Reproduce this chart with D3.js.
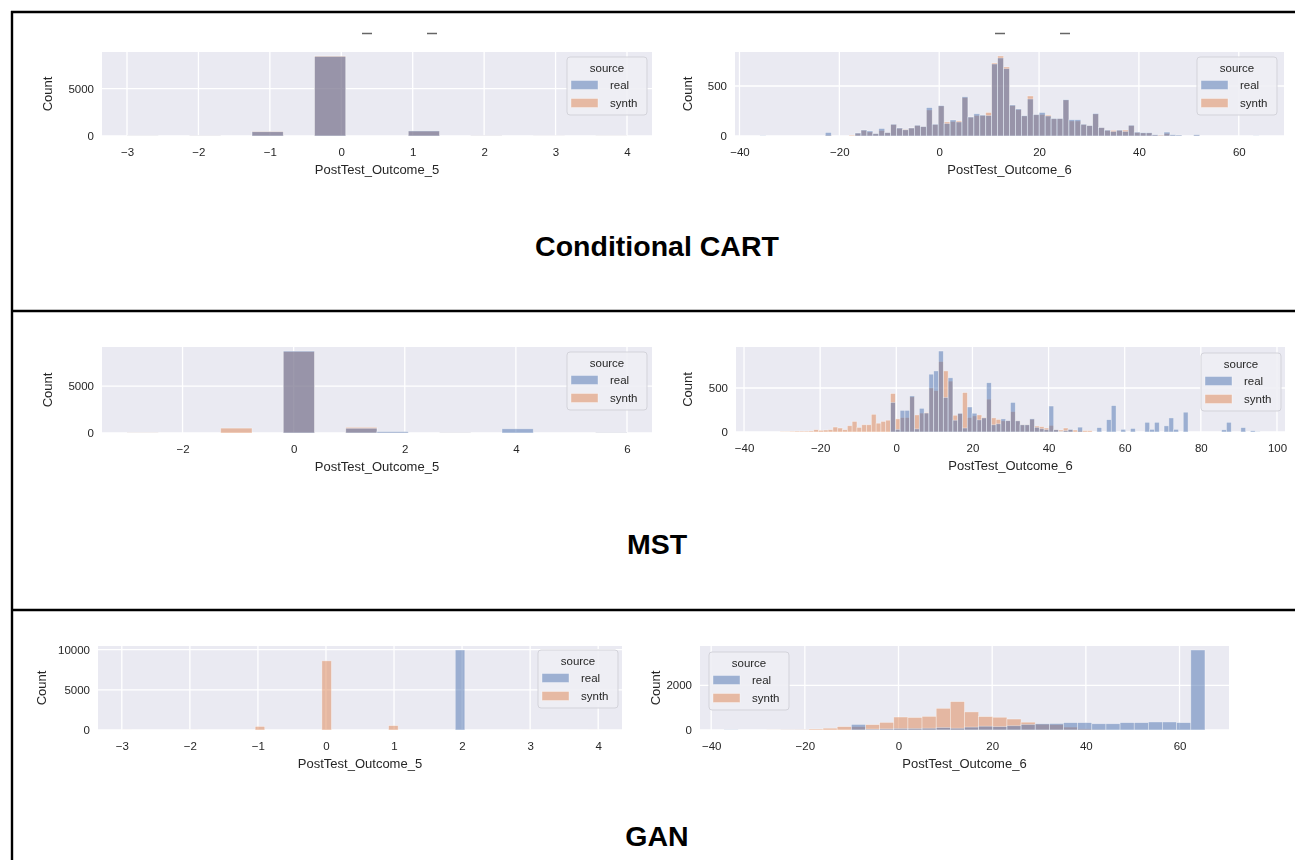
<!DOCTYPE html>
<html>
<head>
<meta charset="utf-8">
<script src="https://cdn.jsdelivr.net/npm/d3@7"></script>
<style>
  body { margin: 0; background: #ffffff; }
  svg text { font-family: "Liberation Sans", Arial, Helvetica, sans-serif; }
</style>
</head>
<body>
<svg id="fig" width="1295" height="860"></svg>
<script>
// ---------- Conditional CART ----------
const cartO5BinStart = -3, cartO5BinWidth = 0.4375;
const cartO5Real  = [15, 0, 20, 0, 450, 0, 8400, 0, 0, 540, 0, 20, 0, 10, 0, 10];
const cartO5Synth = [10, 0, 15, 0, 470, 0, 8450, 0, 0, 520, 0, 15, 0, 8, 0, 12];
const cartO5XTicks = [-3, -2, -1, 0, 1, 2, 3, 4];
const cartO5YTicks = [0, 5000];

const cartO6BinStart = -35.9, cartO6BinWidth = 1.19;
const cartO6Real = [
  3, 0, 0, 0, 0, 0, 0, 0, 0, 0,
  0, 35, 0, 0, 0, 0, 30, 60, 50, 25,
  75, 35, 118, 80, 62, 80, 108, 95, 284, 118,
  304, 125, 160, 140, 392, 190, 222, 209, 205, 720,
  780, 673, 310, 270, 203, 370, 215, 235, 200, 176,
  176, 363, 163, 163, 118, 105, 225, 85, 59, 45,
  59, 45, 108, 39, 33, 33, 13, 3, 39, 13,
  10, 0, 0, 13, 0, 0, 0, 0, 0, 0,
  0, 0, 0, 2
];
const cartO6Synth = [
  0, 0, 0, 0, 0, 0, 0, 0, 0, 0,
  0, 8, 0, 0, 0, 8, 28, 58, 40, 22,
  55, 33, 115, 78, 65, 80, 105, 93, 260, 115,
  300, 140, 145, 150, 385, 188, 205, 205, 235, 730,
  800, 690, 305, 265, 200, 400, 212, 215, 209, 172,
  174, 360, 150, 150, 115, 103, 220, 83, 57, 56,
  57, 59, 105, 35, 30, 30, 10, 10, 25, 5,
  3, 0, 0, 3, 0, 0, 0, 0, 0, 0,
  0, 0, 0, 0
];
const cartO6XTicks = [-40, -20, 0, 20, 40, 60];
const cartO6YTicks = [0, 500];

// ---------- MST ----------
const mstO5BinStart = -3, mstO5BinWidth = 0.5625;
const mstO5Real  = [10, 0, 0, 0, 0, 8750, 0, 500, 150, 0, 40, 0, 450, 0, 0, 50];
const mstO5Synth = [20, 0, 0, 520, 0, 8700, 0, 600, 20, 0, 30, 0, 0, 0, 0, 40];
const mstO5XTicks = [-2, 0, 2, 4, 6];
const mstO5YTicks = [0, 5000];

const mstO6BinStart = -35.55, mstO6BinWidth = 1.2606;
const mstO6Real = [
  0, 0, 0, 0, 0, 0, 0, 0, 0, 0,
  0, 0, 0, 0, 0, 0, 0, 0, 0, 0,
  0, 0, 0, 0, 0, 0, 0, 336, 30, 246,
  246, 410, 35, 269, 215, 657, 694, 920, 392, 616,
  134, 213, 45, 284, 213, 138, 160, 560, 82, 93,
  149, 130, 336, 127, 82, 82, 150, 52, 37, 26,
  295, 26, 5, 15, 30, 0, 55, 0, 0, 0,
  50, 0, 140, 300, 0, 30, 0, 40, 0, 0,
  110, 30, 110, 0, 70, 160, 30, 0, 225, 0,
  0, 0, 0, 0, 0, 0, 25, 110, 0, 0,
  50, 0, 15, 5
];
const mstO6Synth = [
  0, 0, 0, 0, 5, 5, 8, 10, 10, 10,
  12, 26, 19, 22, 26, 56, 45, 26, 71, 120,
  52, 82, 82, 201, 100, 120, 134, 437, 149, 164,
  164, 400, 194, 215, 220, 500, 470, 800, 694, 578,
  190, 210, 448, 164, 183, 194, 165, 373, 160, 142,
  127, 127, 231, 127, 82, 82, 145, 67, 60, 45,
  75, 26, 22, 45, 26, 22, 15, 15, 15, 0,
  0, 0, 0, 0, 0, 0, 0, 0, 0, 0,
  0, 0, 0, 0, 0, 0, 0, 0, 0, 0,
  0, 0, 0, 0, 0, 0, 0, 0, 0, 0,
  0, 0, 0, 0
];
const mstO6XTicks = [-40, -20, 0, 20, 40, 60, 80, 100];
const mstO6YTicks = [0, 500];

// ---------- GAN ----------
const ganO5BinStart = -3, ganO5BinWidth = 0.14;
const ganO5Real = [
  0, 0, 0, 0, 0, 0, 0, 0, 0, 0,
  0, 0, 0, 0, 0, 0, 0, 0, 0, 0,
  0, 0, 0, 0, 0, 0, 0, 0, 0, 0,
  0, 0, 0, 0, 0, 9950, 0, 0, 0, 0,
  0, 0, 0, 0, 0, 0, 0, 0, 0, 0
];
const ganO5Synth = [
  5, 0, 0, 0, 0, 0, 0, 5, 0, 0,
  0, 0, 0, 0, 440, 0, 0, 0, 0, 0,
  0, 8600, 0, 0, 0, 0, 0, 0, 540, 0,
  0, 0, 0, 0, 0, 0, 0, 0, 0, 0,
  0, 0, 5, 0, 0, 0, 0, 0, 0, 5
];
const ganO5XTicks = [-3, -2, -1, 0, 1, 2, 3, 4];
const ganO5YTicks = [0, 5000, 10000];

const ganO6BinStart = -37.25, ganO6BinWidth = 3.02;
const ganO6Real  = [15, 0, 0, 0, 5, 5, 0, 0, 0, 250, 40, 50, 70, 70, 80, 110, 80, 130, 170, 150,
                    190, 250, 280, 290, 330, 330, 280, 280, 330, 330, 360, 360, 330, 3580];
const ganO6Synth = [0, 0, 0, 5, 10, 20, 45, 80, 150, 150, 240, 340, 580, 560, 610, 970, 1270, 810, 600, 570,
                    490, 350, 260, 240, 130, 50, 20, 0, 0, 0, 0, 0, 0, 0];
const ganO6XTicks = [-40, -20, 0, 20, 40, 60];
const ganO6YTicks = [0, 2000];

const sectionTitles = ["Conditional CART", "MST", "GAN"];
const hueLevels = ["real", "synth"];

// ---------- styling ----------
const REAL = "#4c72b0", SYNTH = "#dd8452", AXBG = "#eaeaf2", INK = "#262626";

const svg = d3.select("#fig");

// the histogram panels are pasted raster figures, slightly soft
svg.append("defs").append("filter").attr("id", "soft")
  .attr("x", "-5%").attr("y", "-5%").attr("width", "110%").attr("height", "110%")
  .append("feGaussianBlur").attr("stdDeviation", 0.45);

// page frame
const frame = svg.append("g").attr("stroke", "#000").attr("stroke-width", 2.4);
frame.append("line").attr("x1", 11).attr("x2", 1295).attr("y1", 12).attr("y2", 12);
frame.append("line").attr("x1", 12).attr("x2", 12).attr("y1", 11).attr("y2", 860);
frame.append("line").attr("x1", 11).attr("x2", 1295).attr("y1", 311).attr("y2", 311);
frame.append("line").attr("x1", 11).attr("x2", 1295).attr("y1", 610).attr("y2", 610);

// underscores of the clipped panel titles peeking out at the top
const stubs = svg.append("g").attr("stroke", "#666").attr("stroke-width", 1.5);
[[362, 372], [427, 437], [995, 1005], [1060, 1070]].forEach(([a, b]) =>
  stubs.append("line").attr("x1", a).attr("x2", b).attr("y1", 33.5).attr("y2", 33.5));

// section titles
[[sectionTitles[0], 256], [sectionTitles[1], 554], [sectionTitles[2], 846]].forEach(([t, yy]) =>
  svg.append("text").attr("x", 657).attr("y", yy).attr("text-anchor", "middle")
    .attr("font-size", 28.5).attr("font-weight", "bold").attr("fill", "#000").text(t));

const panels = [
  { real: cartO5Real, synth: cartO5Synth, start: cartO5BinStart, width: cartO5BinWidth,
    xt: cartO5XTicks, yt: cartO5YTicks, xlabel: "PostTest_Outcome_5",
    box: { x0: 102, x1: 652, y0: 52, y1: 136 }, countX: 48, legend: { dx: -85, dy: 5, right: true } },
  { real: cartO6Real, synth: cartO6Synth, start: cartO6BinStart, width: cartO6BinWidth,
    xt: cartO6XTicks, yt: cartO6YTicks, xlabel: "PostTest_Outcome_6",
    box: { x0: 735, x1: 1284, y0: 52, y1: 136 }, countX: 688, legend: { dx: -87, dy: 5, right: true } },
  { real: mstO5Real, synth: mstO5Synth, start: mstO5BinStart, width: mstO5BinWidth,
    xt: mstO5XTicks, yt: mstO5YTicks, xlabel: "PostTest_Outcome_5",
    box: { x0: 102, x1: 652, y0: 347, y1: 433 }, countX: 48, legend: { dx: -85, dy: 5, right: true } },
  { real: mstO6Real, synth: mstO6Synth, start: mstO6BinStart, width: mstO6BinWidth,
    xt: mstO6XTicks, yt: mstO6YTicks, xlabel: "PostTest_Outcome_6",
    box: { x0: 736, x1: 1285, y0: 347, y1: 432 }, countX: 688, legend: { dx: -84, dy: 6, right: true } },
  { real: ganO5Real, synth: ganO5Synth, start: ganO5BinStart, width: ganO5BinWidth,
    xt: ganO5XTicks, yt: ganO5YTicks, xlabel: "PostTest_Outcome_5",
    box: { x0: 98, x1: 622, y0: 646, y1: 730 }, countX: 42, legend: { dx: -84, dy: 4, right: true } },
  { real: ganO6Real, synth: ganO6Synth, start: ganO6BinStart, width: ganO6BinWidth,
    xt: ganO6XTicks, yt: ganO6YTicks, xlabel: "PostTest_Outcome_6",
    box: { x0: 700, x1: 1229, y0: 646, y1: 730 }, countX: 656, legend: { dx: 9, dy: 6, right: false } }
];

function drawPanel(p) {
  const n = p.real.length;
  const end = p.start + n * p.width;
  const span = end - p.start;
  const x = d3.scaleLinear().domain([p.start - 0.05 * span, end + 0.05 * span]).range([p.box.x0, p.box.x1]);
  const yMax = 1.05 * d3.max(p.real.concat(p.synth));
  const y = d3.scaleLinear().domain([0, yMax]).range([p.box.y1, p.box.y0]);

  const g = svg.append("g").attr("filter", "url(#soft)");
  g.append("rect").attr("x", p.box.x0).attr("y", p.box.y0)
    .attr("width", p.box.x1 - p.box.x0).attr("height", p.box.y1 - p.box.y0).attr("fill", AXBG);

  // white grid
  g.append("g").selectAll("line").data(p.xt).join("line")
    .attr("x1", d => x(d)).attr("x2", d => x(d)).attr("y1", p.box.y0).attr("y2", p.box.y1)
    .attr("stroke", "#fff").attr("stroke-width", 1.3);
  g.append("g").selectAll("line").data(p.yt).join("line")
    .attr("x1", p.box.x0).attr("x2", p.box.x1).attr("y1", d => y(d)).attr("y2", d => y(d))
    .attr("stroke", "#fff").attr("stroke-width", 1.3);

  // layered histogram bars: synth underneath, real on top
  const layer = (vals, color) => {
    const bins = vals.map((v, i) => ({ v, x0: p.start + i * p.width, x1: p.start + (i + 1) * p.width }))
      .filter(d => d.v > 0);
    g.append("g").selectAll("rect").data(bins).join("rect")
      .attr("x", d => x(d.x0)).attr("width", d => x(d.x1) - x(d.x0))
      .attr("y", d => y(d.v)).attr("height", d => y(0) - y(d.v))
      .attr("fill", color).attr("fill-opacity", 0.5)
      .attr("stroke", "#fff").attr("stroke-opacity", 0.5).attr("stroke-width", 0.7);
  };
  layer(p.synth, SYNTH);
  layer(p.real, REAL);

  // axes (no spines, no tick marks)
  const ax = g.append("g").attr("transform", `translate(0,${p.box.y1})`)
    .call(d3.axisBottom(x).tickValues(p.xt).tickSize(0).tickPadding(12));
  ax.select(".domain").remove();
  ax.selectAll("text").attr("font-size", 11.5).attr("fill", INK)
    .attr("font-family", "'Liberation Sans', Arial, sans-serif");

  const ay = g.append("g").attr("transform", `translate(${p.box.x0},0)`)
    .call(d3.axisLeft(y).tickValues(p.yt).tickSize(0).tickPadding(8).tickFormat(d3.format("d")));
  ay.select(".domain").remove();
  ay.selectAll("text").attr("font-size", 11.5).attr("fill", INK)
    .attr("font-family", "'Liberation Sans', Arial, sans-serif");

  g.append("text").attr("x", (p.box.x0 + p.box.x1) / 2).attr("y", p.box.y1 + 38)
    .attr("text-anchor", "middle").attr("font-size", 13).attr("fill", INK).text(p.xlabel);
  const cy = (p.box.y0 + p.box.y1) / 2;
  g.append("text").attr("transform", `translate(${p.countX + 4},${cy}) rotate(-90)`)
    .attr("text-anchor", "middle").attr("font-size", 13).attr("fill", INK).text("Count");

  // legend
  const lw = 80, lh = 58;
  const lx = p.legend.right ? p.box.x1 + p.legend.dx : p.box.x0 + p.legend.dx;
  const ly = p.box.y0 + p.legend.dy;
  const lg = g.append("g").attr("transform", `translate(${lx},${ly})`);
  lg.append("rect").attr("width", lw).attr("height", lh).attr("rx", 3)
    .attr("fill", "#eeeef4").attr("fill-opacity", 0.9).attr("stroke", "#d3d3da").attr("stroke-width", 1);
  lg.append("text").attr("x", lw / 2).attr("y", 15).attr("text-anchor", "middle")
    .attr("font-size", 11.5).attr("fill", INK).text("source");
  hueLevels.forEach((lvl, i) => {
    const yy = 28 + i * 18;
    lg.append("rect").attr("x", 4).attr("y", yy - 4.5).attr("width", 27).attr("height", 9)
      .attr("fill", lvl === "real" ? REAL : SYNTH).attr("fill-opacity", 0.5)
      .attr("stroke", "#fff").attr("stroke-opacity", 0.5).attr("stroke-width", 0.7);
    lg.append("text").attr("x", 43).attr("y", yy + 4).attr("font-size", 11.5).attr("fill", INK).text(lvl);
  });
}

panels.forEach(drawPanel);
</script>
</body>
</html>
